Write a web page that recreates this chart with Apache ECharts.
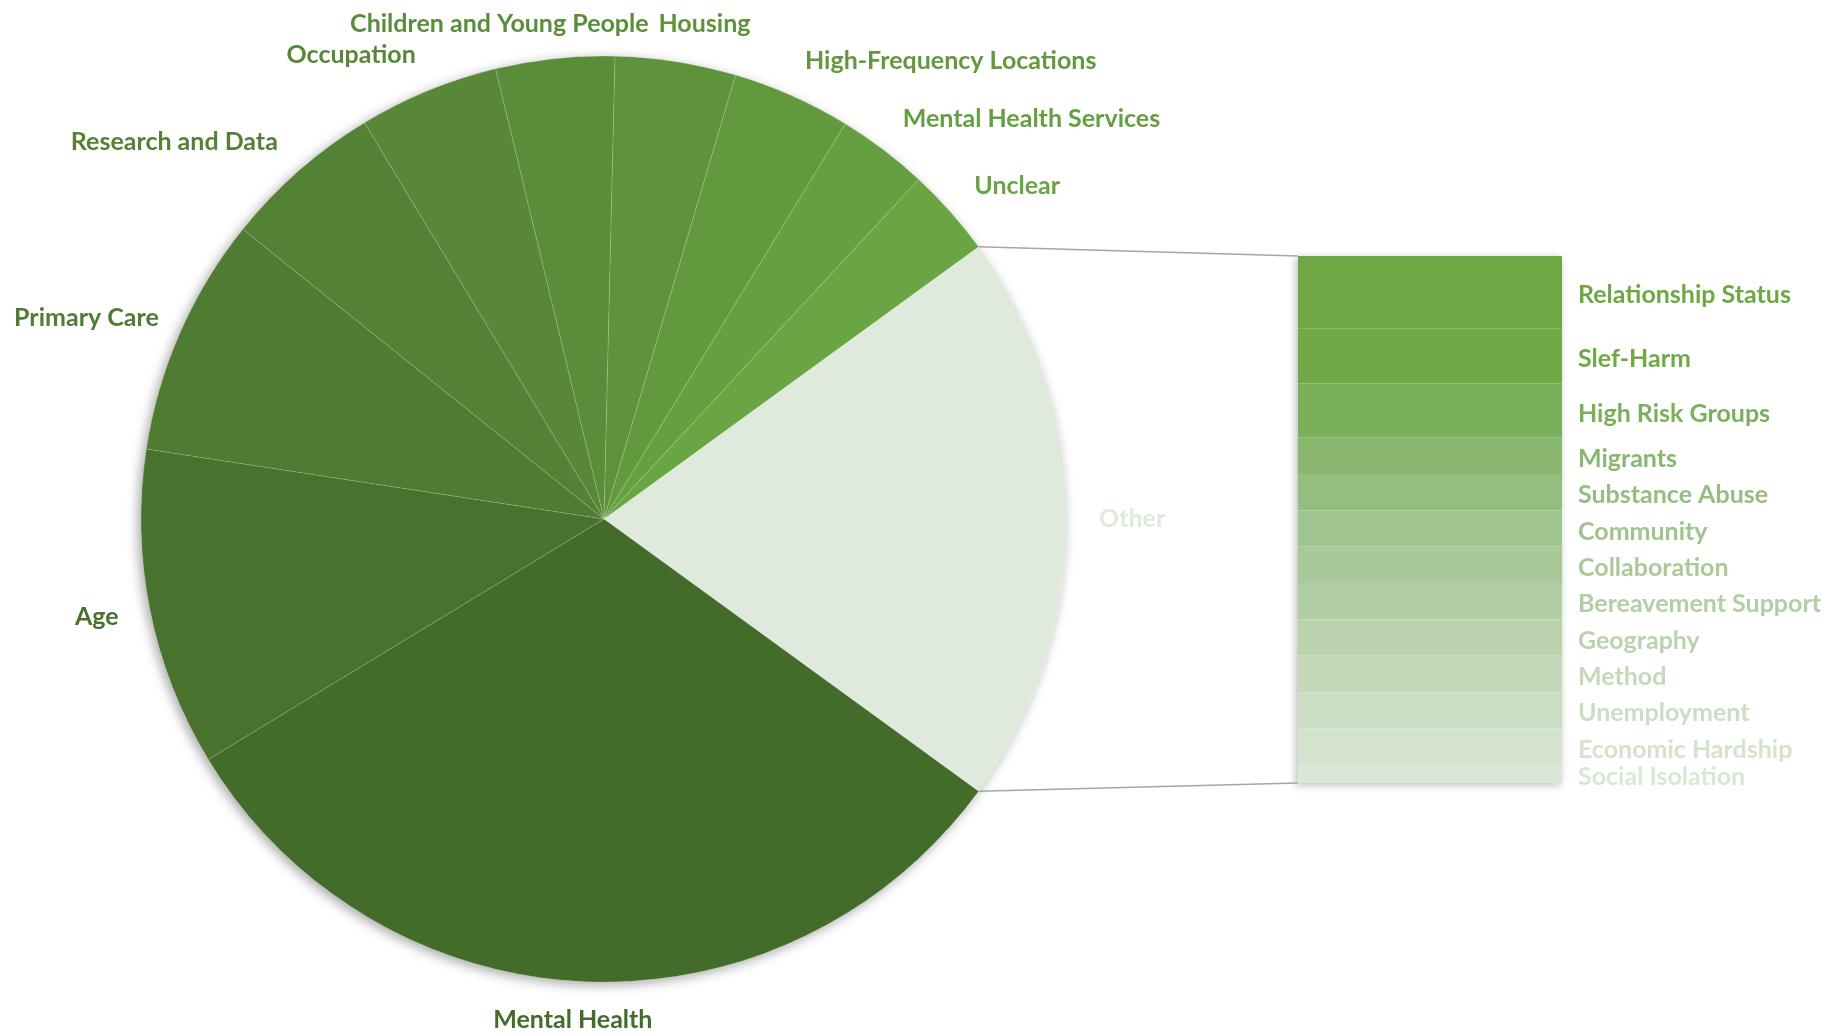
<!DOCTYPE html>
<html>
<head>
<meta charset="utf-8">
<script src="https://cdn.jsdelivr.net/npm/echarts/dist/echarts.min.js"></script>
<style>
html,body{margin:0;padding:0;background:#ffffff;}
#chart{width:1842px;height:1036px;}
</style>
</head>
<body>
<div id="chart"></div>
<script>
// ---- data ----
const pieCategories = ['Mental Health','Age','Primary Care','Research and Data','Occupation','Children and Young People','Housing','High-Frequency Locations','Mental Health Services','Unclear'];
const pieValues = [45.4, 16.1, 12.1, 8.1, 7.1, 6.0, 6.1, 6.0, 4.6, 4.5];
const otherLabel = 'Other';
const barCategories = ['Relationship Status','Slef-Harm','High Risk Groups','Migrants','Substance Abuse','Community','Collaboration','Bereavement Support','Geography','Method','Unemployment','Economic Hardship','Social Isolation'];
const barValues = [4, 3, 3, 2, 2, 2, 2, 2, 2, 2, 2, 2, 1];

// ---- styles ----
const otherColor = '#dfe9dc';
const pieColors = ['#436c2b','#49722e','#507b32','#548234','#578737','#5a8d39','#5e933c','#62993e','#669f41','#6aa543'];
const barColors = ['#6ea844','#70aa47','#7ab05b','#89b770','#94be80','#a0c48e','#aac999','#b2cea4','#bad3ae','#c3d9b9','#cbdec3','#d3e3cc','#dae6d6'];

const W = 1842, H = 1036;
const PIE_CX = 604, PIE_CY = 519, PIE_R = 463;
const GRID = {left: 1298, top: 256, width: 264, height: 527};
const LABEL_GAP = 32;
const FONT = {fontFamily: 'Lato', fontWeight: 'bold', fontSize: 25};

const barTotal = barValues.reduce((a, b) => a + b, 0);
const pieTotal = pieValues.reduce((a, b) => a + b, 0) + barTotal;
const startAngle = barTotal / pieTotal * 180;

const pieData = [{
  name: otherLabel, value: barTotal,
  itemStyle: {color: otherColor},
  label: {color: otherColor}
}].concat(pieCategories.map((n, i) => ({
  name: n, value: pieValues[i],
  itemStyle: {color: pieColors[i]},
  label: {color: pieColors[i]}
})));

const barSeries = barCategories.map((n, i) => ({
  type: 'bar',
  name: n,
  stack: 'other',
  barWidth: '100%',
  data: [barValues[i]],
  itemStyle: {color: barColors[i]},
  label: Object.assign({
    show: true, position: 'right', distance: 16, offset: [0, 3],
    formatter: '{a}', color: barColors[i]
  }, FONT),
  emphasis: {disabled: true}
}));

const chart = echarts.init(document.getElementById('chart'), null, {renderer: 'canvas'});

const option = {
  animation: false,
  backgroundColor: '#ffffff',
  grid: Object.assign({
    show: true, borderWidth: 0, backgroundColor: '#ffffff',
    shadowBlur: 8, shadowColor: 'rgba(0,0,0,0.28)', shadowOffsetX: -2, shadowOffsetY: 2
  }, GRID),
  xAxis: {type: 'category', data: ['other'], show: false},
  yAxis: {type: 'value', min: 0, max: barTotal, inverse: true, show: false},
  series: [
    {
      type: 'pie',
      silent: true,
      z: 1,
      center: [PIE_CX, PIE_CY],
      radius: PIE_R,
      label: {show: false},
      labelLine: {show: false},
      data: [{value: 1, name: 'shadow', itemStyle: {color: '#ffffff'}}],
      itemStyle: {shadowBlur: 12, shadowColor: 'rgba(0,0,0,0.35)', shadowOffsetX: -3, shadowOffsetY: 3}
    },
    {
      type: 'pie',
      z: 2,
      center: [PIE_CX, PIE_CY],
      radius: PIE_R,
      startAngle: startAngle,
      clockwise: true,
      avoidLabelOverlap: false,
      itemStyle: {borderColor: 'rgba(255,255,255,0.22)', borderWidth: 0.6},
      label: Object.assign({show: true, position: 'outside', formatter: '{b}'}, FONT),
      labelLine: {show: true, length: 10, length2: 0, lineStyle: {opacity: 0}},
      labelLayout: function (p) {
        const pts = p.labelLinePoints;
        if (!pts || pts.length < 2) return {};
        const x0 = pts[0][0], y0 = pts[0][1];
        let dx = pts[1][0] - x0, dy = pts[1][1] - y0;
        const len = Math.hypot(dx, dy) || 1;
        dx /= len; dy /= len;
        const w = p.labelRect.width, h = p.labelRect.height;
        const px = x0 + dx * LABEL_GAP, py = y0 + dy * LABEL_GAP;
        const kx = Math.max(-1, Math.min(1, 3.3 * dx));
        const lx = px + kx * w / 2 + (dx < -0.85 && dy < -0.2 ? 8 : 0);
        let ly = py + dy * h * 0.25;
        ly = Math.max(24, Math.min(H - 8, ly));
        return {x: lx, y: ly, align: 'center', verticalAlign: 'middle'};
      },
      emphasis: {disabled: true},
      data: pieData
    }
  ].concat(barSeries)
};
chart.setOption(option);

// connector lines between the "Other" slice and the bar
const a = startAngle * Math.PI / 180;
const pTop = [PIE_CX + PIE_R * Math.cos(a), PIE_CY - PIE_R * Math.sin(a)];
const pBot = [PIE_CX + PIE_R * Math.cos(-a), PIE_CY - PIE_R * Math.sin(-a)];
const yTop = chart.convertToPixel({yAxisIndex: 0}, 0);
const yBot = chart.convertToPixel({yAxisIndex: 0}, barTotal);
const xMid = chart.convertToPixel({xAxisIndex: 0}, 'other');
const xLeft = xMid - GRID.width / 2;
chart.setOption({
  graphic: [
    {type: 'line', z: 10, silent: true, shape: {x1: pTop[0], y1: pTop[1], x2: xLeft, y2: yTop}, style: {stroke: '#a6a6a6', lineWidth: 1.5}},
    {type: 'line', z: 10, silent: true, shape: {x1: pBot[0], y1: pBot[1], x2: xLeft, y2: yBot}, style: {stroke: '#a6a6a6', lineWidth: 1.5}}
  ]
});
</script>
</body>
</html>
